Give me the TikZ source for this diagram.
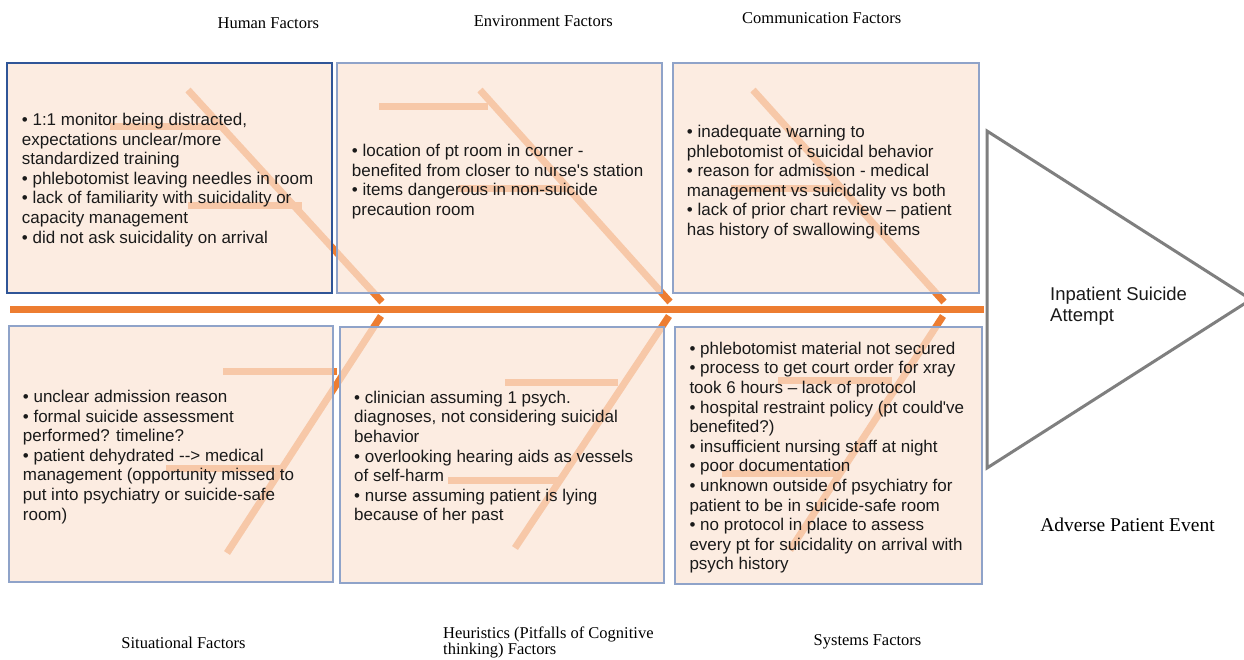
\documentclass[tikz,border=0pt]{standalone}
\usepackage{fontspec}
\newfontfamily\boxfont{Liberation Sans}[Ligatures=TeXOff]
\newfontfamily\labfont{Liberation Serif}
\definecolor{bone}{HTML}{ED7D31}
\definecolor{boxfill}{HTML}{FBE5D6}
\definecolor{boxdark}{HTML}{2F5597}
\definecolor{boxline}{HTML}{8FA3C9}
\definecolor{trigray}{HTML}{7F7F7F}
\definecolor{txt}{HTML}{1A1A1A}
\begin{document}
\begin{tikzpicture}[x=1pt,y=-1pt,
  boneline/.style={draw=bone,line width=7pt},
  panel/.style={fill=boxfill,fill opacity=0.72,draw=boxline,line width=1.3pt},
  itemtext/.style={anchor=north west,inner sep=0pt,align=left,text=txt,
    font=\boxfont\fontsize{17}{19.6}\selectfont},
  cat/.style={anchor=base,inner sep=0pt,text=black,
    font=\labfont\fontsize{16.5}{17}\selectfont}]
\useasboundingbox (0,0) rectangle (1244,659);
\clip (0,0) rectangle (1244,659);
\fill[white] (0,0) rectangle (1244,659);

% spine
\coordinate (spL) at (10,309.5);
\coordinate (spR) at (984,309.5);
\draw[boneline] (spL) -- (spR);

% top bones
\coordinate (hA) at (188,90);   \coordinate (hB) at (382,302);
\coordinate (eA) at (480,90);   \coordinate (eB) at (670,302);
\coordinate (cA) at (753,90);   \coordinate (cB) at (944,302);
\draw[boneline] (hA) -- (hB);
\draw[boneline] (eA) -- (eB);
\draw[boneline] (cA) -- (cB);
\draw[boneline] (110,126) -- (220,126);
\draw[boneline] (188,205) -- (302,205);
\draw[boneline] (379,106) -- (488,106);
\draw[boneline] (458,188) -- (568,188);
\draw[boneline] (731,188) -- (841,188);

% bottom bones
\coordinate (sA) at (227,553);  \coordinate (sB) at (381,316);
\coordinate (uA) at (515,548);  \coordinate (uB) at (669,316);
\coordinate (yA) at (790,550);  \coordinate (yB) at (943,316);
\draw[boneline] (sA) -- (sB);
\draw[boneline] (uA) -- (uB);
\draw[boneline] (yA) -- (yB);
\draw[boneline] (223,371) -- (337,371);
\draw[boneline] (166,468) -- (280,468);
\draw[boneline] (505,382) -- (618,382);
\draw[boneline] (448,480) -- (560,480);
\draw[boneline] (778,380) -- (892,380);
\draw[boneline] (722,473) -- (836,473);

% panels
\draw[panel,draw=boxdark] (7,63) rectangle (332,293);
\draw[panel] (337,63) rectangle (662,293);
\draw[panel] (673,63) rectangle (979,293);
\draw[panel] (9,326) rectangle (333,582);
\draw[panel] (340,327) rectangle (664,583);
\draw[panel] (675,327) rectangle (982,584);

% panel texts
\node[itemtext] (thuman) at (21.7,113) {• 1:1 monitor being distracted,\\expectations unclear/more\\standardized training\\• phlebotomist leaving needles in room\\• lack of familiarity with suicidality or\\capacity management\\• did not ask suicidality on arrival};
\node[itemtext] (tenv) at (351.7,144) {• location of pt room in corner -\\benefited from closer to nurse's station\\• items dangerous in non-suicide\\precaution room};
\node[itemtext] (tcomm) at (686.7,125) {• inadequate warning to\\phlebotomist of suicidal behavior\\• reason for admission - medical\\management vs suicidality vs both\\• lack of prior chart review – patient\\has history of swallowing items};
\node[itemtext] (tsit) at (22.7,390) {• unclear admission reason\\• formal suicide assessment\\performed? timeline?\\• patient dehydrated --> medical\\management (opportunity missed to\\put into psychiatry or suicide-safe\\room)};
\node[itemtext] (theur) at (354,390.7) {• clinician assuming 1 psych.\\diagnoses, not considering suicidal\\behavior\\• overlooking hearing aids as vessels\\of self-harm\\• nurse assuming patient is lying\\because of her past};
\node[itemtext] (tsys) at (689.3,341.7) {• phlebotomist material not secured\\• process to get court order for xray\\took 6 hours – lack of protocol\\• hospital restraint policy (pt could've\\benefited?)\\• insufficient nursing staff at night\\• poor documentation\\• unknown outside of psychiatry for\\patient to be in suicide-safe room\\• no protocol in place to assess\\every pt for suicidality on arrival with\\psych history};

% head triangle
\coordinate (tTop) at (987,131);
\coordinate (tBot) at (987,468);
\coordinate (tTip) at (1251,299.5);
\draw[trigray,line width=3pt,line join=miter] (tTop) -- (tTip) -- (tBot) -- cycle;
\node[anchor=north west,inner sep=0pt,align=left,text=txt,
  font=\boxfont\fontsize{18.5}{21.5}\selectfont] (head) at (1050,286.7) {Inpatient Suicide\\Attempt};

% category labels
\node[cat] (lhum) at (268.3,28.3) {Human Factors};
\node[cat] (lenv) at (543.3,26) {Environment Factors};
\node[cat] (lcom) at (821.7,23.3) {Communication Factors};
\node[cat] (lsit) at (183.5,648) {Situational Factors};
\node[cat,anchor=base west,align=left,font=\labfont\fontsize{16.5}{15}\selectfont] (lheu) at (443,654.5) {Heuristics (Pitfalls of Cognitive\\thinking) Factors};
\node[cat] (lsys) at (867.5,645) {Systems Factors};
\node[cat,font=\labfont\fontsize{19.5}{21}\selectfont] (ladv) at (1127.5,531.7) {Adverse Patient Event};
\end{tikzpicture}
\end{document}
